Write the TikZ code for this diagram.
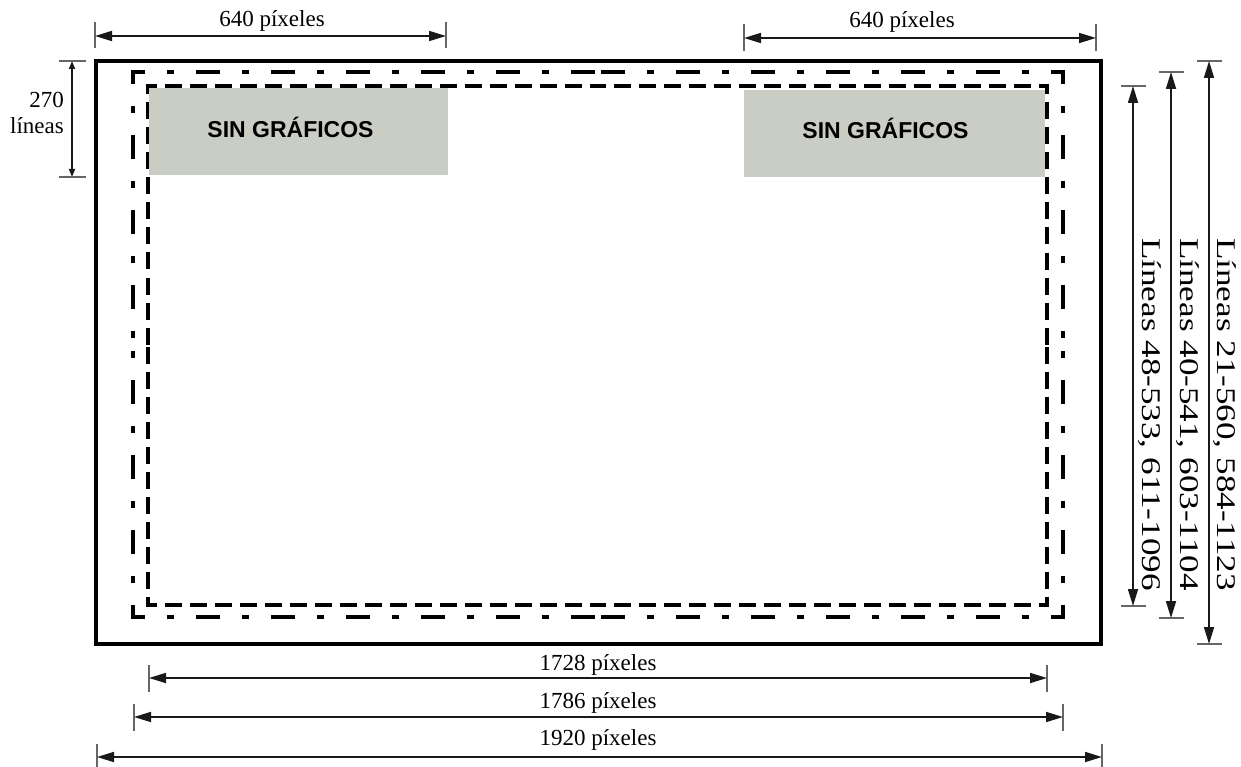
\documentclass[tikz,border=0pt]{standalone}
\usepackage{fontspec}
\usepackage{graphicx}
\setmainfont{Liberation Serif}
\newfontfamily\labsans{Liberation Sans}
\usetikzlibrary{arrows.meta}
\definecolor{boxgray}{RGB}{201,205,195}
\begin{document}
\begin{tikzpicture}[x=1pt,y=-1pt,
  dimline/.style={line width=1.7pt, draw=black!90},
  tickline/.style={line width=1.3pt, draw=black!60},
  dimarrow/.style={dimline, {Triangle[length=17pt,width=10pt]}-{Triangle[length=17pt,width=10pt]}},
  smallarrow/.style={dimline, {Triangle[length=8pt,width=6pt]}-{Triangle[length=8pt,width=6pt]}},
  lab/.style={font=\fontsize{23}{26}\selectfont, inner sep=0pt},
  vlab/.style={font=\fontsize{27}{30}\selectfont, inner sep=0pt, rotate=-90, anchor=base west},
  nogfx/.style={fill=boxgray, draw=none, inner sep=0pt},
  nogfxtext/.style={font=\labsans\bfseries\fontsize{23}{26}\selectfont, inner sep=0pt},
  frameline/.style={line width=3.8pt},
  actionsafe/.style={line width=3.2pt, line join=miter, dash pattern=on 24pt off 22pt on 7pt off 22pt},
  titlesafe/.style={line width=3.2pt, line join=miter, dash pattern=on 17pt off 8pt},
]
\useasboundingbox (0,0) rectangle (1241,767);

% outer frame
\draw[frameline] (96,61) rectangle (1101,644);

% action-safe frame (dash-dot), drawn from side midpoints through each corner
\coordinate (aT) at (598,72);  \coordinate (aL) at (133,344.5);
\coordinate (aB) at (598,617); \coordinate (aR) at (1063,344.5);
\draw[actionsafe, dash phase=72pt]   (aT) -- (133,72) -- (aL);
\draw[actionsafe, dash phase=39.5pt] (aL) -- (133,617) -- (aB);
\draw[actionsafe, dash phase=72pt]   (aB) -- (1063,617) -- (aR);
\draw[actionsafe, dash phase=39.5pt] (aR) -- (1063,72) -- (aT);

% title-safe frame (dashed)
\coordinate (tT) at (597.5,86);  \coordinate (tL) at (148,345.5);
\coordinate (tB) at (597.5,605); \coordinate (tR) at (1047,345.5);
\draw[titlesafe, dash phase=9pt]  (tT) -- (148,86) -- (tL);
\draw[titlesafe, dash phase=24pt] (tL) -- (148,605) -- (tB);
\draw[titlesafe, dash phase=9pt]  (tB) -- (1047,605) -- (tR);
\draw[titlesafe, dash phase=24pt] (tR) -- (1047,86) -- (tT);

% no-graphics boxes
\node[nogfx, minimum width=299pt, minimum height=87pt] (boxL) at (298.5,131.5) {};
\node[nogfx, minimum width=301pt, minimum height=87pt] (boxR) at (894.5,133.5) {};
\node[nogfxtext] (txtL) at ([xshift=-8pt,yshift=4pt]boxL.center) {SIN GRÁFICOS};
\node[nogfxtext] (txtR) at ([xshift=-9pt,yshift=5pt]boxR.center) {SIN GRÁFICOS};

% top dimensions
\coordinate (tl1) at (95,36); \coordinate (tl2) at (446,36);
\draw[tickline] (95,22) -- (95,48);
\draw[tickline] (446,22) -- (446,48);
\draw[dimarrow] (tl1) -- (tl2);
\node[lab, anchor=base] (labTL) at (272,27) {640 píxeles};

\coordinate (tr1) at (744,38); \coordinate (tr2) at (1096,38);
\draw[tickline] (744,24) -- (744,51);
\draw[tickline] (1096,24) -- (1096,51);
\draw[dimarrow] (tr1) -- (tr2);
\node[lab, anchor=base] (labTR) at (902,28) {640 píxeles};

% 270 lines
\coordinate (v1) at (72,61); \coordinate (v2) at (72,177);
\draw[tickline] (59,61) -- (86,61);
\draw[tickline] (59,177) -- (86,177);
\draw[smallarrow] (v1) -- (v2);
\node[lab, anchor=north east, align=right] (lab270) at (64,92) {270\\líneas};

% right vertical dimensions
\coordinate (ra1) at (1133,86); \coordinate (ra2) at (1133,606);
\draw[tickline] (1121,86) -- (1146,86);
\draw[tickline] (1121,606) -- (1146,606);
\draw[dimarrow] (ra1) -- (ra2);
\node[vlab] (labRA) at (1142,238) {\scalebox{1.3}[1]{Líneas 48-533, 611-1096}};

\coordinate (rb1) at (1171,72); \coordinate (rb2) at (1171,618);
\draw[tickline] (1159,72) -- (1184,72);
\draw[tickline] (1159,618) -- (1184,618);
\draw[dimarrow] (rb1) -- (rb2);
\node[vlab] (labRB) at (1180,238) {\scalebox{1.3}[1]{Líneas 40-541, 603-1104}};

\coordinate (rc1) at (1209,61); \coordinate (rc2) at (1209,644);
\draw[tickline] (1197,61) -- (1222,61);
\draw[tickline] (1197,644) -- (1222,644);
\draw[dimarrow] (rc1) -- (rc2);
\node[vlab] (labRC) at (1217,238) {\scalebox{1.3}[1]{Líneas 21-560, 584-1123}};

% bottom dimensions
\coordinate (ba1) at (149,678); \coordinate (ba2) at (1047,678);
\draw[tickline] (149,665) -- (149,692);
\draw[tickline] (1047,665) -- (1047,692);
\draw[dimarrow] (ba1) -- (ba2);
\node[lab, anchor=base] (labBA) at (598,670) {1728 píxeles};

\coordinate (bb1) at (134,717); \coordinate (bb2) at (1063,717);
\draw[tickline] (134,704) -- (134,731);
\draw[tickline] (1063,704) -- (1063,731);
\draw[dimarrow] (bb1) -- (bb2);
\node[lab, anchor=base] (labBB) at (598,708) {1786 píxeles};

\coordinate (bc1) at (97,757); \coordinate (bc2) at (1102,757);
\draw[tickline] (97,744) -- (97,770);
\draw[tickline] (1102,744) -- (1102,770);
\draw[dimarrow] (bc1) -- (bc2);
\node[lab, anchor=base] (labBC) at (598,745) {1920 píxeles};
\end{tikzpicture}
\end{document}
